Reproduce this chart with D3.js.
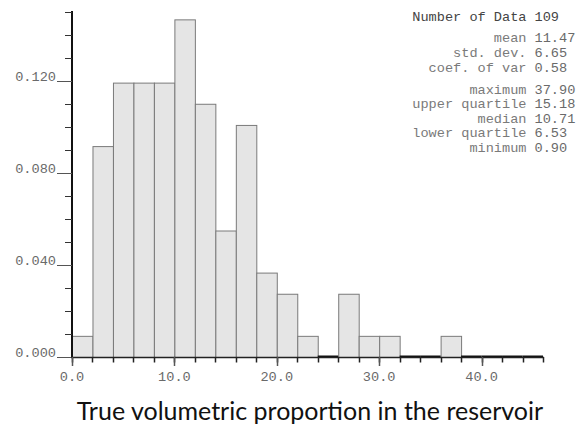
<!DOCTYPE html>
<html>
<head>
<meta charset="utf-8">
<script src="https://cdn.jsdelivr.net/npm/d3@7/dist/d3.min.js"></script>
<style>
  html, body { margin: 0; padding: 0; background: #fff; }
  svg { display: block; }
</style>
</head>
<body>
<svg id="chart" width="579" height="426"></svg>
<script>
// Histogram bins: class width 2, from 0 to 46
const binStarts = [0, 2, 4, 6, 8, 10, 12, 14, 16, 18, 20, 22, 24, 26, 28, 30, 32, 34, 36, 38, 40, 42, 44];
const binWidth = 2;
// Relative frequency per bin
const frequencies = [0.0092, 0.0917, 0.1193, 0.1193, 0.1193, 0.1468, 0.1101, 0.0550, 0.1009, 0.0367,
                     0.0275, 0.0092, 0, 0.0275, 0.0092, 0.0092, 0, 0, 0.0092, 0, 0, 0, 0];

const yTickValues = [0.000, 0.040, 0.080, 0.120];
const yMinorTicks = d3.range(0, 0.1501, 0.01);
const xTickValues = [0, 10, 20, 30, 40];
const xMinorTicks = d3.range(0, 46.01, 2);

const statLabels = ["Number of Data", "mean", "std. dev.", "coef. of var", "maximum", "upper quartile", "median", "lower quartile", "minimum"];
const statValues = ["109", "11.47", "6.65", "0.58", "37.90", "15.18", "10.71", "6.53", "0.90"];

const xTitle = "True volumetric proportion in the reservoir";

const svg = d3.select("#chart");
const mono = "'Liberation Mono', 'DejaVu Sans Mono', monospace";
const monoSize = 13.6;

const x = d3.scaleLinear().domain([0, 46]).range([72, 543]);
const y = d3.scaleLinear().domain([0, 0.15]).range([357, 12]);

// bars
const bars = binStarts.map((s, i) => ({ x0: s, x1: s + binWidth, f: frequencies[i] }));
svg.append("g").selectAll("rect")
  .data(bars.filter(d => d.f > 0))
  .join("rect")
  .attr("x", d => x(d.x0) + 0.5)
  .attr("y", d => y(d.f) + 0.5)
  .attr("width", d => x(d.x1) - x(d.x0))
  .attr("height", d => y(0) - y(d.f))
  .attr("fill", "#e5e5e5")
  .attr("stroke", "#7a7a7a")
  .attr("stroke-width", 1);

// empty bins drawn as a flat dark line
svg.append("g").selectAll("line")
  .data(bars.filter(d => d.f === 0))
  .join("line")
  .attr("x1", d => x(d.x0))
  .attr("x2", d => x(d.x1))
  .attr("y1", y(0) - 0.5)
  .attr("y2", y(0) - 0.5)
  .attr("stroke", "#111")
  .attr("stroke-width", 2);

// y axis
const yAxis = svg.append("g");
yAxis.append("line")
  .attr("x1", x(0)).attr("x2", x(0))
  .attr("y1", y(0.15) - 1).attr("y2", y(0) + 1)
  .attr("stroke", "#111").attr("stroke-width", 2);
yAxis.selectAll("line.minor")
  .data(yMinorTicks)
  .join("line").attr("class", "minor")
  .attr("x1", x(0) - 7).attr("x2", x(0))
  .attr("y1", d => Math.round(y(d)) + 0.5).attr("y2", d => Math.round(y(d)) + 0.5)
  .attr("stroke", "#333").attr("stroke-width", 1);
yAxis.selectAll("line.major")
  .data(yTickValues)
  .join("line").attr("class", "major")
  .attr("x1", x(0) - 15).attr("x2", x(0))
  .attr("y1", d => Math.round(y(d)) + 0.5).attr("y2", d => Math.round(y(d)) + 0.5)
  .attr("stroke", "#555").attr("stroke-width", 1);
yAxis.selectAll("text")
  .data(yTickValues)
  .join("text")
  .attr("x", x(0) - 16)
  .attr("y", d => y(d))
  .attr("text-anchor", "end")
  .attr("font-family", mono)
  .attr("font-size", monoSize)
  .attr("fill", "#6a6a6a")
  .text(d => d3.format(".3f")(d));

// x axis
const xAxis = svg.append("g");
xAxis.append("line")
  .attr("x1", x(0) - 1).attr("x2", x(46) + 1)
  .attr("y1", y(0) + 0.5).attr("y2", y(0) + 0.5)
  .attr("stroke", "#222").attr("stroke-width", 1.5);
xAxis.selectAll("line.minor")
  .data(xMinorTicks)
  .join("line").attr("class", "minor")
  .attr("x1", d => Math.round(x(d)) + 0.5).attr("x2", d => Math.round(x(d)) + 0.5)
  .attr("y1", y(0)).attr("y2", y(0) + 5.5)
  .attr("stroke", "#222").attr("stroke-width", 1.5);
xAxis.selectAll("line.major")
  .data(xTickValues)
  .join("line").attr("class", "major")
  .attr("x1", d => Math.round(x(d)) + 0.5).attr("x2", d => Math.round(x(d)) + 0.5)
  .attr("y1", y(0)).attr("y2", y(0) + 9)
  .attr("stroke", "#555").attr("stroke-width", 1.5);
xAxis.selectAll("text")
  .data(xTickValues)
  .join("text")
  .attr("x", d => x(d))
  .attr("y", y(0) + 23.5)
  .attr("text-anchor", "middle")
  .attr("font-family", mono)
  .attr("font-size", monoSize)
  .attr("fill", "#6a6a6a")
  .text(d => d3.format(".1f")(d));

// statistics block
const statY = [21, 41.5, 56.5, 71.5, 93.5, 108, 122.5, 137, 151.5];
const stats = svg.append("g").attr("font-family", mono).attr("font-size", monoSize);
stats.selectAll("text.lbl")
  .data(statLabels)
  .join("text").attr("class", "lbl")
  .attr("x", 526.5).attr("y", (d, i) => statY[i])
  .attr("text-anchor", "end")
  .attr("fill", (d, i) => i === 0 ? "#444" : "#7a7a7a")
  .text(d => d);
stats.selectAll("text.val")
  .data(statValues)
  .join("text").attr("class", "val")
  .attr("x", 534.5).attr("y", (d, i) => statY[i])
  .attr("fill", (d, i) => i === 0 ? "#444" : "#6a6a6a")
  .text(d => d);

// axis title
svg.append("text")
  .attr("x", 310)
  .attr("y", 420)
  .attr("text-anchor", "middle")
  .attr("font-family", "Lato, 'Open Sans', sans-serif")
  .attr("font-size", 25)
  .attr("fill", "#111")
  .text(xTitle);
</script>
</body>
</html>
